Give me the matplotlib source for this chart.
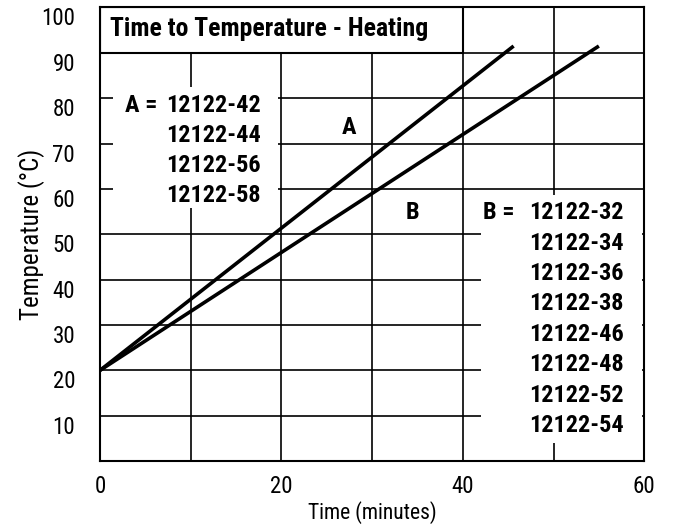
import matplotlib
matplotlib.use("Agg")
import matplotlib.pyplot as plt
from matplotlib.patches import Rectangle

plt.rcParams['font.family'] = ['Roboto Condensed', 'DejaVu Sans']

# heating curves: start and end points (minutes, degC)
time_a = [0, 45.6]
temp_a = [20, 91.5]
time_b = [0, 55.0]
temp_b = [20, 91.5]

models_a = ["12122-42", "12122-44", "12122-56", "12122-58"]
models_b = ["12122-32", "12122-34", "12122-36", "12122-38",
            "12122-46", "12122-48", "12122-52", "12122-54"]

x_major = [0, 20, 40, 60]
x_minor = [10, 30, 50]
y_ticks = [10, 20, 30, 40, 50, 60, 70, 80, 90, 100]

fig = plt.figure(figsize=(6.76, 5.27), dpi=100)
ax = fig.add_axes([0.148, 0.1252, 0.805, 0.8606])

ax.set_xlim(0, 60)
ax.set_ylim(0, 100)
ax.set_xticks(x_major)
ax.set_xticks(x_minor, minor=True)
ax.set_yticks(y_ticks)
ax.grid(True, which='both', color='black', linewidth=1.2, zorder=0)
ax.set_axisbelow(True)
ax.tick_params(which='both', length=0, labelsize=16.5)
ax.tick_params(axis='y', pad=18)
ax.tick_params(axis='x', pad=10)
# y labels sit just under their grid lines
for lbl in ax.get_yticklabels():
    lbl.set_verticalalignment('top')
for s in ax.spines.values():
    s.set_linewidth(1.5)

# white boxes that hide the grid behind the notes
ax.add_patch(Rectangle((1.4, 55.8), 18.2, 26.7, facecolor='white',
                       edgecolor='none', zorder=1))
ax.add_patch(Rectangle((42.0, 4.0), 17.7, 54.7, facecolor='white',
                       edgecolor='none', zorder=1))
ax.add_patch(Rectangle((0, 90), 40, 10, facecolor='white',
                       edgecolor='black', linewidth=1.5, zorder=2))

ax.plot(time_a, temp_a, color='black', linewidth=2.6, zorder=3,
        solid_capstyle='butt')
ax.plot(time_b, temp_b, color='black', linewidth=2.6, zorder=3,
        solid_capstyle='butt')

bold = dict(fontsize=17.5, fontweight='bold', va='baseline', zorder=4)
ax.text(1.1, 93.7, "Time to Temperature - Heating", ha='left',
        fontsize=18.5, fontweight='bold', va='baseline', zorder=4)

step = 6.6
ax.text(2.7, 77.0, "A =", ha='left', **bold)
for i, m in enumerate(models_a):
    ax.text(7.3, 77.0 - i * step, m, ha='left', **bold)
ax.text(27.4, 72.2, "A", ha='center', **bold)

ax.text(42.2, 53.3, "B =", ha='left', **bold)
for i, m in enumerate(models_b):
    ax.text(47.3, 53.3 - i * 6.7, m, ha='left', **bold)
ax.text(34.4, 53.3, "B", ha='center', **bold)

ax.set_xlabel("Time (minutes)", fontsize=15.5, labelpad=2)
ax.set_ylabel("Temperature (\u00b0C)", fontsize=18)
ax.yaxis.set_label_coords(-0.101, 0.5)

fig.savefig("out.png", dpi=100, facecolor='white')
